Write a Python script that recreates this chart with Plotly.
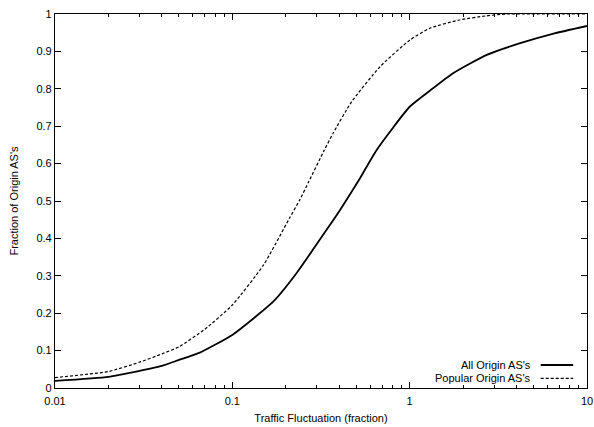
import plotly.graph_objects as go

# CDF of traffic fluctuation for origin ASes
all_x = [0.01, 0.02, 0.03, 0.04, 0.05, 0.065, 0.1, 0.17, 0.23, 0.36, 0.405,
         0.525, 0.65, 1.0, 1.3, 1.75, 2.7, 4.2, 6.4, 10]
all_y = [0.019, 0.030, 0.046, 0.059, 0.075, 0.094, 0.142, 0.231, 0.307, 0.44,
         0.476, 0.561, 0.636, 0.752, 0.795, 0.841, 0.890, 0.922, 0.947, 0.968]

pop_x = [0.01, 0.02, 0.03, 0.04, 0.05, 0.07, 0.1, 0.15, 0.21, 0.24, 0.27,
         0.33, 0.37, 0.47, 0.68, 1.0, 1.3, 1.9, 2.7, 3.5, 10]
pop_y = [0.028, 0.044, 0.069, 0.091, 0.11, 0.157, 0.222, 0.329, 0.454, 0.503,
         0.552, 0.636, 0.681, 0.765, 0.859, 0.930, 0.962, 0.984, 0.995, 1.0, 1.0]

series_names = ["All Origin AS's", "Popular Origin AS's"]
x_ticks = [0.01, 0.1, 1, 10]
x_tick_text = ["0.01", "0.1", "1", "10"]
y_ticks = [0, 0.1, 0.2, 0.3, 0.4, 0.5, 0.6, 0.7, 0.8, 0.9, 1]
y_tick_text = ["0", "0.1", "0.2", "0.3", "0.4", "0.5", "0.6", "0.7", "0.8", "0.9", "1"]

FONT = "Liberation Sans, Arial, Helvetica, sans-serif"

fig = go.Figure()
fig.add_trace(go.Scatter(x=all_x, y=all_y, mode="lines", name=series_names[0],
                         line=dict(color="black", width=1.8, shape="spline", smoothing=0.5),
                         showlegend=False))
fig.add_trace(go.Scatter(x=pop_x, y=pop_y, mode="lines", name=series_names[1],
                         line=dict(color="black", width=1.2, dash="3px,2px",
                                   shape="spline", smoothing=0.5),
                         showlegend=False))

axis_common = dict(showline=True, linecolor="black", linewidth=1.2, mirror="ticks",
                   ticks="inside", ticklen=6, tickwidth=1.2, tickcolor="black",
                   showgrid=False, zeroline=False, automargin=False,
                   tickfont=dict(family=FONT, size=11, color="black"))

fig.update_layout(
    xaxis=dict(type="log", range=[-2, 1], tickvals=x_ticks, ticktext=x_tick_text,
               ticklabelstandoff=3,
               minor=dict(ticks="inside", ticklen=3, tickwidth=1.2, tickcolor="black",
                          dtick="D1", showgrid=False),
               title=dict(text="Traffic Fluctuation (fraction)", standoff=8,
                          font=dict(family=FONT, size=11, color="black")),
               **axis_common),
    yaxis=dict(range=[0, 1], tickvals=y_ticks, ticktext=y_tick_text,
               title=dict(text="Fraction of Origin AS's", standoff=15,
                          font=dict(family=FONT, size=11, color="black")),
               **axis_common),
)

# Key in the lower right: label text followed by a line sample
legend_rows = [(0.0615, dict(color="black", width=1.8)),
               (0.026, dict(color="black", width=1.2, dash="3px,2px"))]
for name, (ypos, style) in zip(series_names, legend_rows):
    fig.add_annotation(x=0.8985, y=ypos, xref="paper", yref="paper", text=name,
                       showarrow=False, xanchor="right", yanchor="middle",
                       font=dict(family=FONT, size=11, color="black"))
    fig.add_shape(type="line", xref="paper", yref="paper", x0=0.913, x1=0.974,
                  y0=ypos, y1=ypos, line=style)

fig.update_layout(width=594, height=427, margin=dict(l=55, r=7, t=14, b=39),
                  paper_bgcolor="white", plot_bgcolor="white",
                  font=dict(family=FONT, size=11, color="black"))

fig.write_html("out.html")
